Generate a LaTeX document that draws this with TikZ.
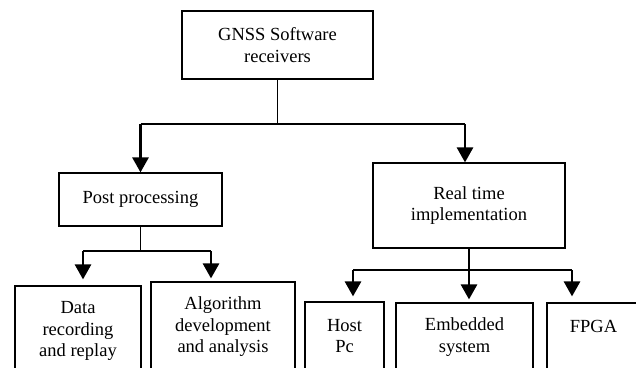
\documentclass[tikz,border=0pt]{standalone}
\usepackage{fontspec}
\setmainfont{Liberation Serif}
\usetikzlibrary{arrows.meta}

\begin{document}
\begin{tikzpicture}[x=1pt,y=-1pt,
  box/.style={draw,line width=1.2pt,align=center,inner sep=0pt,
    font=\fontsize{18.5}{21.5}\selectfont},
  link/.style={line width=1.1pt},
  down/.style={line width=2.8pt,-{Triangle[width=16pt,length=15pt]}}]
\clip (0,0) rectangle (636,367);
\node[box,minimum width=191,minimum height=68] (gnss) at (277.5,45) {GNSS Software\\receivers};
\node[box,minimum width=163,minimum height=53] (post) at (140.5,199.5) {Post processing};
\node[box,minimum width=192,minimum height=85] (real) at (469,205.5) {Real time\\implementation};
\node[box,minimum width=126,minimum height=90] (data) at (78,331) {Data\\recording\\and replay};
\node[box,minimum width=144,minimum height=90] (algo) at (223,327) {Algorithm\\development\\and analysis};
\node[box,minimum width=79,minimum height=68] (host) at (344.5,336) {Host\\Pc};
\node[box,minimum width=137,minimum height=68] (emb) at (464.5,337) {Embedded\\system};
\node[box,minimum width=93,minimum height=68] (fpga) at (593.5,337) {FPGA\\~};
% branch points
\coordinate (s0) at (277.5,124);
\coordinate (s0l) at (140.5,124);
\coordinate (s0r) at (465,124);
\coordinate (s1) at (140.5,251);
\coordinate (s1l) at (83,251);
\coordinate (s1r) at (211,251);
\coordinate (s2l) at (353,270);
\coordinate (s2r) at (572,270);
% top level
\draw[link] (gnss) -- (s0);
\draw[link] (s0l) -- (s0r);
\draw[down] (s0l) -- (post);
\draw[down] (s0r) -- (s0r |- real.north);
% post processing
\draw[link] (post) -- (s1);
\draw[link] (s1l) -- (s1r);
\draw[down,shorten >=6pt] (s1l) -- (s1l |- data.north);
\draw[down,shorten >=3pt] (s1r) -- (s1r |- algo.north);
% real time
\draw[link] (s2l) -- (s2r);
\draw[down,shorten >=5pt] (s2l) -- (s2l |- host.north);
\draw[down,shorten >=3pt] (real) -- (real.south |- emb.north);
\draw[down,shorten >=6pt] (s2r) -- (s2r |- fpga.north);
\end{tikzpicture}
\end{document}
